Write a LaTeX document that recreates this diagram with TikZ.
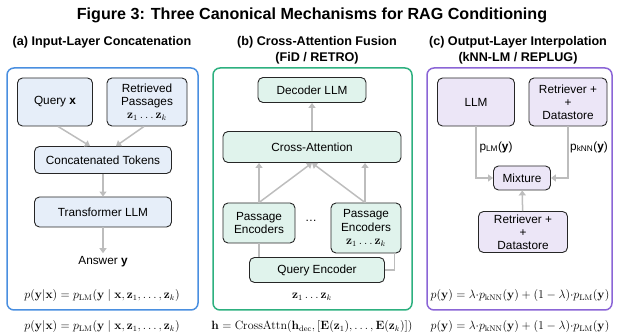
\documentclass[tikz,border=0pt]{standalone}
\usepackage[no-math]{fontspec}
\setmainfont{Liberation Sans}
\usetikzlibrary{arrows.meta}

\definecolor{lineA}{HTML}{4A8FE0}
\definecolor{fillA}{HTML}{E6EEF9}
\definecolor{lineB}{HTML}{2DB07F}
\definecolor{fillB}{HTML}{E0F3EC}
\definecolor{lineC}{HTML}{8B65D6}
\definecolor{fillC}{HTML}{ECE6F7}
\definecolor{flowgray}{HTML}{BDBDBD}

\tikzset{
  panel/.style={line width=1.5pt, rounded corners=7pt},
  box/.style={draw=black!85, line width=0.9pt, rounded corners=5pt, align=center, inner sep=1pt, font=\fontsize{11.8}{13.2}\selectfont},
  boxA/.style={box, fill=fillA},
  boxB/.style={box, fill=fillB},
  boxC/.style={box, fill=fillC},
  flow/.style={draw=flowgray, line width=1.5pt, -{Triangle[length=5pt,width=7pt]}},
  link/.style={draw=flowgray, line width=1.5pt},
  heading/.style={font=\bfseries\fontsize{12.6}{16.5}\selectfont, align=center},
  plain/.style={font=\fontsize{11.8}{13.2}\selectfont},
  formula/.style={font=\fontsize{11.5}{13}\selectfont}
}

\begin{document}
\begin{tikzpicture}[x=1pt, y=-1pt]
    \useasboundingbox (0,0) rectangle (619,336);
    \node[font=\bfseries\fontsize{16.1}{19}\selectfont] (title) at (312,15) {Figure 3: Three Canonical Mechanisms for RAG Conditioning};

    % (a) input layer
    \node[heading] (headA) at (102,42) {(a) Input-Layer Concatenation};
    \draw[panel, draw=lineA] (7,68) rectangle (198,310);
    \node[boxA, minimum width=75, minimum height=48] (query) at (55,102) {Query \textbf{x}};
    \node[boxA, minimum width=80, minimum height=48] (passages) at (147,102) {Retrieved\\Passages\\$\mathbf{z}_1\ldots\mathbf{z}_k$};
    \node[boxA, minimum width=137, minimum height=27] (concat) at (103,160) {Concatenated Tokens};
    \node[boxA, minimum width=137, minimum height=30] (llmA) at (103,212) {Transformer LLM};
    \node[plain] (answer) at (103,262) {Answer \textbf{y}};
    \node[formula] (eqA) at (102,296) {$p(\mathbf{y}|\mathbf{x}) = p_{\mathrm{LM}}(\mathbf{y}\mid \mathbf{x},\mathbf{z}_1,\ldots,\mathbf{z}_k)$};
    \node[formula] (eqAb) at (102,327) {$p(\mathbf{y}|\mathbf{x}) = p_{\mathrm{LM}}(\mathbf{y}\mid \mathbf{x},\mathbf{z}_1,\ldots,\mathbf{z}_k)$};
    \draw[flow] ([xshift=3pt]query.south) -- ([xshift=-13pt]concat.north);
    \draw[flow] ([xshift=-3pt]passages.south) -- ([xshift=13pt]concat.north);
    \draw[flow] (concat) -- (llmA);
    \draw[flow] (llmA) -- (answer);

    % (b) cross-attention
    \node[heading] (headB) at (317,50) {(b) Cross-Attention Fusion\\(FiD / RETRO)};
    \draw[panel, draw=lineB] (213,68) rectangle (412,310);
    \node[boxB, minimum width=108, minimum height=25] (decoder) at (312,90) {Decoder LLM};
    \node[boxB, minimum width=178, minimum height=31] (xattn) at (312,147) {Cross-Attention};
    \node[boxB, minimum width=72, minimum height=40] (encL) at (259,223) {Passage\\Encoders};
    \node[plain] (dots) at (311,221) {\dots};
    \node[boxB, minimum width=70, minimum height=50] (encR) at (366,228) {Passage\\Encoders\\$\mathbf{z}_1\ldots\mathbf{z}_k$};
    \node[boxB, minimum width=135, minimum height=25] (qenc) at (317,270) {Query Encoder};
    \node[formula] (zsB) at (312,297) {$\mathbf{z}_1\ldots\mathbf{z}_k$};
    \node[formula] (eqB) at (312,327) {$\mathbf{h} = \mathrm{CrossAttn}(\mathbf{h}_{\mathrm{dec}}, [\mathbf{E}(\mathbf{z}_1),\ldots,\mathbf{E}(\mathbf{z}_k)])$};
    \draw[flow] (xattn) -- (decoder);
    \draw[flow] (encL.north) -- (encL.north |- xattn.south);
    \draw[flow] (encL.north) -- (xattn.south);
    \draw[flow] ([xshift=-1pt]encR.north) -- (xattn.south);
    \draw[flow] ([xshift=-1pt]encR.north) -- ([xshift=-1pt]encR.north |- xattn.south);
    \draw[link] (encL.south) -- (encL.south |- qenc.north);
    \draw[link] (qenc.east) -| ([xshift=-7pt]encR.south east);

    % (c) output layer
    \node[heading] (headC) at (518,50) {(c) Output-Layer Interpolation\\(kNN-LM / REPLUG)};
    \draw[panel, draw=lineC] (427,68) rectangle (612,310);
    \node[boxC, minimum width=77, minimum height=48] (llmC) at (476,102) {LLM};
    \node[boxC, minimum width=78, minimum height=48] (retrTop) at (568,102) {Retriever +\\+\\Datastore};
    \node[boxC, minimum width=57, minimum height=24] (mixture) at (522,178) {Mixture};
    \node[boxC, minimum width=89, minimum height=41] (retrBot) at (523,232) {Retriever +\\+\\Datastore};
    \node[plain] (pLM) at (496,147) {p\textsubscript{LM}(\textbf{y})};
    \node[plain] (pkNN) at (589,147) {p\textsubscript{kNN}(\textbf{y})};
    \draw[flow] (llmC.south) |- (mixture.west);
    \draw[flow] (retrTop.south) |- (mixture.east);
    \draw[flow] (retrBot) -- (mixture);
    \node[formula] (eqC) at (520,296) {$p(\mathbf{y}) = \lambda{\cdot}p_{\mathrm{kNN}}(\mathbf{y}) + (1-\lambda){\cdot}p_{\mathrm{LM}}(\mathbf{y})$};
    \node[formula] (eqCb) at (520,327) {$p(\mathbf{y}) = \lambda{\cdot}p_{\mathrm{kNN}}(\mathbf{y}) + (1-\lambda){\cdot}p_{\mathrm{LM}}(\mathbf{y})$};
\end{tikzpicture}
\end{document}
